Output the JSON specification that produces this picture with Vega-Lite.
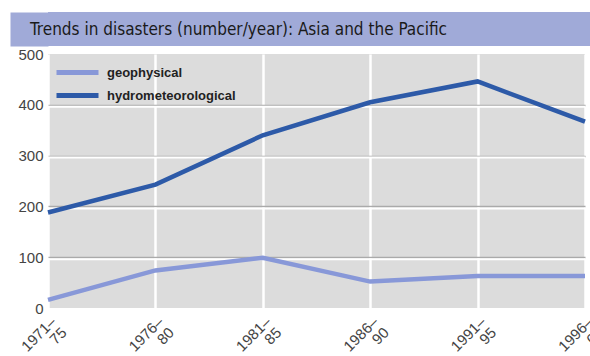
{
  "$schema": "https://vega.github.io/schema/vega-lite/v6.json",
  "padding": {"left": -7, "top": 12, "right": 0, "bottom": 0},
  "background": "white",
  "columns": 1,
  "align": "none",
  "spacing": 1,
  "datasets": {
    "series": [
      {"period": "1971–75", "type": "geophysical", "value": 16},
      {"period": "1976–80", "type": "geophysical", "value": 74},
      {"period": "1981–85", "type": "geophysical", "value": 99},
      {"period": "1986–90", "type": "geophysical", "value": 52},
      {"period": "1991–95", "type": "geophysical", "value": 63},
      {"period": "1996–00", "type": "geophysical", "value": 63},
      {"period": "1971–75", "type": "hydrometeorological", "value": 188},
      {"period": "1976–80", "type": "hydrometeorological", "value": 243},
      {"period": "1981–85", "type": "hydrometeorological", "value": 340},
      {"period": "1986–90", "type": "hydrometeorological", "value": 405},
      {"period": "1991–95", "type": "hydrometeorological", "value": 446},
      {"period": "1996–00", "type": "hydrometeorological", "value": 367}
    ],
    "grid": [{"v": 100}, {"v": 200}, {"v": 300}, {"v": 400}]
  },
  "concat": [
    {
      "width": 542,
      "height": 34,
      "view": {"fill": "#a0aad8", "stroke": null},
      "data": {"values": [{"t": "Trends in disasters (number/year): Asia and the Pacific"}]},
      "mark": {"type": "text", "align": "left", "baseline": "middle", "dx": -289, "dy": 1, "fontSize": 17, "font": "DejaVu Sans Condensed, DejaVu Sans, sans-serif", "color": "#1a1a1a"},
      "encoding": {
        "text": {"field": "t"},
        "y": {
          "field": "t", "type": "nominal",
          "axis": {"title": null, "labels": false, "domain": false, "grid": false, "ticks": true, "tickSize": 38, "tickWidth": 34, "tickCap": "butt", "tickColor": "#a0aad8", "minExtent": 0}
        }
      }
    },
    {
      "width": 537,
      "height": 254,
      "view": {"fill": "#dcdcdc", "stroke": null},
      "layer": [
        {
          "data": {"name": "grid"},
          "mark": {"type": "rule", "color": "white", "strokeWidth": 2, "yOffset": 2},
          "encoding": {
            "y": {"field": "v", "type": "quantitative", "scale": {"domain": [0, 500]}}
          }
        },
        {
          "data": {"name": "series"},
          "mark": {"type": "line", "strokeWidth": 4.5, "strokeCap": "butt"},
          "encoding": {
            "x": {
              "field": "period", "type": "ordinal",
              "sort": ["1971–75", "1976–80", "1981–85", "1986–90", "1991–95", "1996–00"],
              "scale": {"type": "point", "padding": 0},
              "axis": {
                "title": null, "domain": false, "ticks": false,
                "grid": true, "gridColor": "white", "gridWidth": 2.5,
                "labelAngle": -45, "labelAlign": "right", "labelBaseline": "top",
                "labelExpr": "[slice(datum.label, 0, 5), slice(datum.label, 5)]",
                "labelFontSize": 15, "labelColor": "#444", "labelPadding": 6,
                "labelFont": "Liberation Sans", "labelLineHeight": 15
              }
            },
            "y": {
              "field": "value", "type": "quantitative",
              "scale": {"domain": [0, 500]},
              "axis": {
                "title": null, "domain": false, "ticks": false,
                "values": [0, 100, 200, 300, 400, 500],
                "grid": true,
                "gridColor": {"condition": {"test": "datum.value === 0 || datum.value === 500", "value": "transparent"}, "value": "#aaaaaa"},
                "gridWidth": 1.5,
                "labelFontSize": 15, "labelColor": "#444", "labelPadding": 5,
                "labelFont": "Liberation Sans", "minExtent": 38
              }
            },
            "color": {
              "field": "type", "type": "nominal",
              "scale": {"domain": ["geophysical", "hydrometeorological"], "range": ["#8898d8", "#2d5aa8"]},
              "legend": {
                "title": null, "orient": "none", "legendX": 16.5, "legendY": 47.5, "padding": 0,
                "symbolType": "M-2,0H2", "symbolSize": 441, "symbolStrokeWidth": 5,
                "labelFontSize": 13, "labelFontWeight": "bold", "labelColor": "#222",
                "labelFont": "Liberation Sans", "rowPadding": -2, "labelOffset": 16.5
              }
            }
          }
        }
      ]
    }
  ]
}
